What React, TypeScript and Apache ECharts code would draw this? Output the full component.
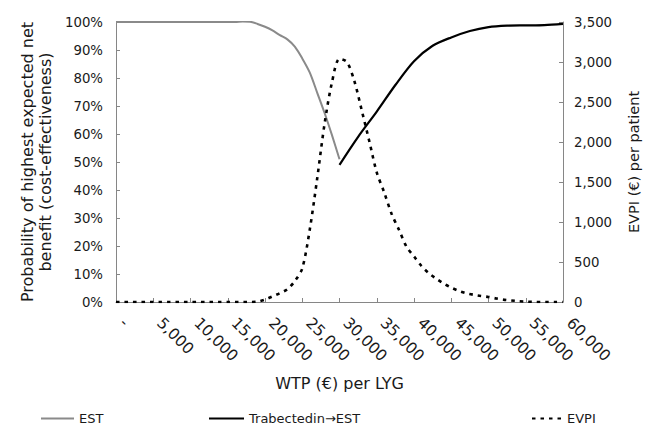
import React, { useEffect, useRef } from "react";
import * as echarts from "echarts";

// ---- data ----
const xTickLabels = ["-", "5,000", "10,000", "15,000", "20,000", "25,000", "30,000", "35,000", "40,000", "45,000", "50,000", "55,000", "60,000"];
const leftTickMax = 100;
const rightTickMax = 3500;

// EST: probability of highest expected net benefit (%)
const estWtp = [0, 5000, 10000, 15000, 16000, 17000, 18000, 19000, 20000, 21000, 22000, 23000, 24000, 25000, 26000, 27000, 28000, 29000, 30000];
const estProb = [100, 100, 100, 100, 100, 100.2, 100.1, 99.3, 98.3, 97, 95.3, 93.8, 91.2, 87, 82, 74.8, 67.5, 59.5, 51];

// Trabectedin→EST: probability (%)
const trabWtp = [30000, 32500, 35000, 37500, 40000, 42500, 45000, 47500, 50000, 52500, 55000, 57500, 60000];
const trabProb = [49, 59, 68, 77.5, 86, 91.5, 94.5, 96.8, 98.2, 98.7, 98.8, 98.9, 99.3];

// EVPI (€) per patient
const evpiWtp = [0, 1000, 2000, 3000, 4000, 5000, 6000, 7000, 8000, 9000, 10000, 11000, 12000, 13000, 14000, 15000, 16000, 17000, 18000, 19000, 20000, 21000, 22000, 23000, 24000, 25000, 26000, 27000, 28000, 29000, 30000, 31000, 32000, 33000, 34000, 35000, 36000, 37000, 38000, 39000, 40000, 41000, 42000, 43000, 44000, 45000, 46000, 47000, 48000, 49000, 50000, 51000, 52000, 53000, 54000, 55000, 56000, 57000, 58000, 59000, 60000];
const evpiValue = [0, 0, 0, 0, 0, 0, 0, 0, 0, 0, 0, 0, 0, 0, 0, 0, 0, 0, 0, 5, 30, 70, 110, 160, 260, 420, 900, 1540, 2230, 2750, 3040, 3000, 2760, 2390, 2010, 1620, 1370, 1100, 900, 690, 570, 450, 360, 290, 230, 180, 140, 110, 90, 75, 63, 45, 30, 20, 10, 5, 2, 0, 0, 0, 0];

const FONT = "DejaVu Sans";
const AXIS_COLOR = "#868686";
const TEXT_COLOR = "#1a1a1a";

function pairs(xs: number[], ys: number[]) {
  return xs.map((x, i) => [x, ys[i]]);
}

export default function App() {
  const ref = useRef<HTMLDivElement>(null);
  useEffect(() => {
    if (!ref.current) return;
    const chart = echarts.init(ref.current, undefined, { renderer: "svg" });
    const axisLine = { show: true, lineStyle: { color: AXIS_COLOR, width: 1 } };
    const axisTick = { show: true, inside: true, length: 4, lineStyle: { color: AXIS_COLOR } };
    const legendBase = {
      top: 412,
      padding: 0,
      itemHeight: 14,
      itemGap: 4,
      itemStyle: { opacity: 0 },
      textStyle: { fontFamily: FONT, fontSize: 13, color: TEXT_COLOR },
    };
    chart.setOption({
      animation: false,
      textStyle: { fontFamily: FONT },
      grid: { left: 116, right: 82, top: 22, bottom: 128, containLabel: false },
      legend: [
        { ...legendBase, data: ["EST"], left: 40, itemWidth: 33 },
        { ...legendBase, data: ["Trabectedin→EST"], left: 208, itemWidth: 35 },
        { ...legendBase, data: ["EVPI"], left: 531, itemWidth: 30 },
      ],
      xAxis: {
        type: "value",
        min: 0,
        max: 60000,
        interval: 5000,
        name: "WTP (€) per LYG",
        nameLocation: "middle",
        nameGap: 73,
        nameTextStyle: { fontFamily: FONT, fontSize: 16, color: TEXT_COLOR },
        axisLine,
        axisTick,
        splitLine: { show: false },
        axisLabel: {
          rotate: -45,
          margin: 12,
          padding: [0, 0, 0, 9],
          fontFamily: FONT,
          fontSize: 15.5,
          color: TEXT_COLOR,
          formatter: (v: number) => xTickLabels[Math.round(v / 5000)] ?? "",
        },
      },
      yAxis: [
        {
          type: "value",
          min: 0,
          max: leftTickMax,
          interval: 10,
          position: "left",
          name: "Probability of highest expected net\nbenefit (cost-effectiveness)",
          nameLocation: "middle",
          nameGap: 62,
          nameTextStyle: { fontFamily: FONT, fontSize: 16, color: TEXT_COLOR, lineHeight: 18 },
          axisLine,
          axisTick,
          splitLine: { show: false },
          axisLabel: { margin: 13, fontFamily: FONT, fontSize: 13.3, color: TEXT_COLOR, formatter: "{value}%" },
        },
        {
          type: "value",
          min: 0,
          max: rightTickMax,
          interval: 500,
          position: "right",
          name: "EVPI (€) per patient",
          nameLocation: "middle",
          nameGap: 63,
          nameTextStyle: { fontFamily: FONT, fontSize: 14.5, color: TEXT_COLOR },
          axisLine,
          axisTick,
          splitLine: { show: false },
          axisLabel: {
            margin: 11,
            fontFamily: FONT,
            fontSize: 13.3,
            color: TEXT_COLOR,
            formatter: (v: number) => v.toLocaleString("en-US"),
          },
        },
      ],
      series: [
        {
          name: "EST",
          type: "line",
          yAxisIndex: 0,
          data: pairs(estWtp, estProb),
          symbol: "none",
          smooth: 0.3,
          lineStyle: { color: "#8a8a8a", width: 2 },
          itemStyle: { color: "#8a8a8a" },
          z: 3,
        },
        {
          name: "Trabectedin→EST",
          type: "line",
          yAxisIndex: 0,
          data: pairs(trabWtp, trabProb),
          symbol: "none",
          smooth: 0.3,
          lineStyle: { color: "#000000", width: 2.2 },
          itemStyle: { color: "#000000" },
          z: 3,
        },
        {
          name: "EVPI",
          type: "line",
          yAxisIndex: 1,
          data: pairs(evpiWtp, evpiValue),
          symbol: "none",
          smooth: 0.3,
          lineStyle: { color: "#000000", width: 2.6, type: [3.5, 5] },
          itemStyle: { color: "#000000" },
          z: 4,
        },
      ],
    });
    return () => chart.dispose();
  }, []);
  return (
    <div
      ref={ref}
      style={{ position: "fixed", left: 0, top: 0, width: 649, height: 430, background: "#fff" }}
    />
  );
}
